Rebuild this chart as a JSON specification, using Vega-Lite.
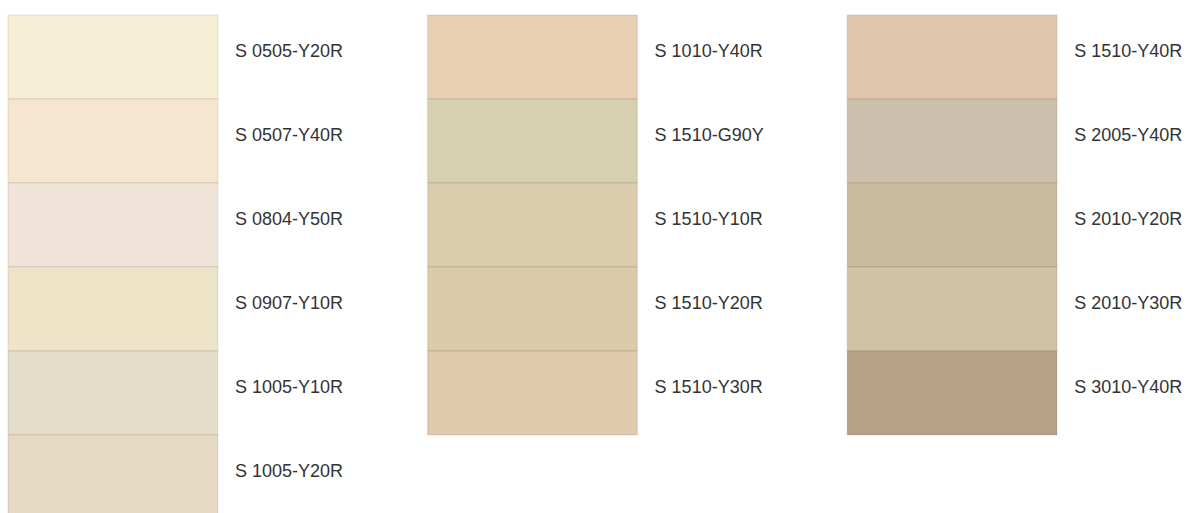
{
  "$schema": "https://vega.github.io/schema/vega-lite/v6.json",
  "width": 1192,
  "height": 513,
  "padding": 0,
  "autosize": {"type": "none"},
  "background": "#ffffff",
  "config": {"view": {"stroke": null}},
  "data": {
    "values": [
      {"name": "S 0505-Y20R", "col": 0, "row": 0},
      {"name": "S 0507-Y40R", "col": 0, "row": 1},
      {"name": "S 0804-Y50R", "col": 0, "row": 2},
      {"name": "S 0907-Y10R", "col": 0, "row": 3},
      {"name": "S 1005-Y10R", "col": 0, "row": 4},
      {"name": "S 1005-Y20R", "col": 0, "row": 5},
      {"name": "S 1010-Y40R", "col": 1, "row": 0},
      {"name": "S 1510-G90Y", "col": 1, "row": 1},
      {"name": "S 1510-Y10R", "col": 1, "row": 2},
      {"name": "S 1510-Y20R", "col": 1, "row": 3},
      {"name": "S 1510-Y30R", "col": 1, "row": 4},
      {"name": "S 1510-Y40R", "col": 2, "row": 0},
      {"name": "S 2005-Y40R", "col": 2, "row": 1},
      {"name": "S 2010-Y20R", "col": 2, "row": 2},
      {"name": "S 2010-Y30R", "col": 2, "row": 3},
      {"name": "S 3010-Y40R", "col": 2, "row": 4}
    ]
  },
  "encoding": {
    "x": {"field": "col", "type": "ordinal", "axis": null,
      "scale": {"domain": [0, 1, 2], "range": [8, 1057], "paddingInner": 0.5, "paddingOuter": 0}},
    "y": {"field": "row", "type": "ordinal", "axis": null,
      "scale": {"domain": [0, 1, 2, 3, 4, 5], "range": [15, 519], "paddingInner": 0, "paddingOuter": 0}}
  },
  "layer": [
    {
      "mark": {"type": "rect", "stroke": "#000000", "strokeOpacity": 0.07, "strokeWidth": 1.5},
      "encoding": {
        "color": {"field": "name", "type": "nominal", "legend": null,
          "scale": {
            "domain": ["S 0505-Y20R", "S 0507-Y40R", "S 0804-Y50R", "S 0907-Y10R", "S 1005-Y10R", "S 1005-Y20R",
                       "S 1010-Y40R", "S 1510-G90Y", "S 1510-Y10R", "S 1510-Y20R", "S 1510-Y30R",
                       "S 1510-Y40R", "S 2005-Y40R", "S 2010-Y20R", "S 2010-Y30R", "S 3010-Y40R"],
            "range": ["#F7EED6", "#F6E6CF", "#F0E4D8", "#EEE5C9", "#E4DDC9", "#E5D9C4",
                      "#E9D0B4", "#D6D0B0", "#DBCCAD", "#DBCBAA", "#E0C9AC",
                      "#E0C6AC", "#CCC0AD", "#CABB9E", "#D2C2A5", "#B89F88"]
          }}
      }
    },
    {
      "mark": {"type": "text", "align": "left", "baseline": "middle", "font": "Liberation Sans",
        "fontSize": 18, "color": "#333333", "xOffset": 227, "yOffset": 36.5},
      "encoding": {
        "x": {"field": "col", "type": "ordinal", "bandPosition": 0},
        "y": {"field": "row", "type": "ordinal", "bandPosition": 0},
        "text": {"field": "name"}
      }
    }
  ]
}
